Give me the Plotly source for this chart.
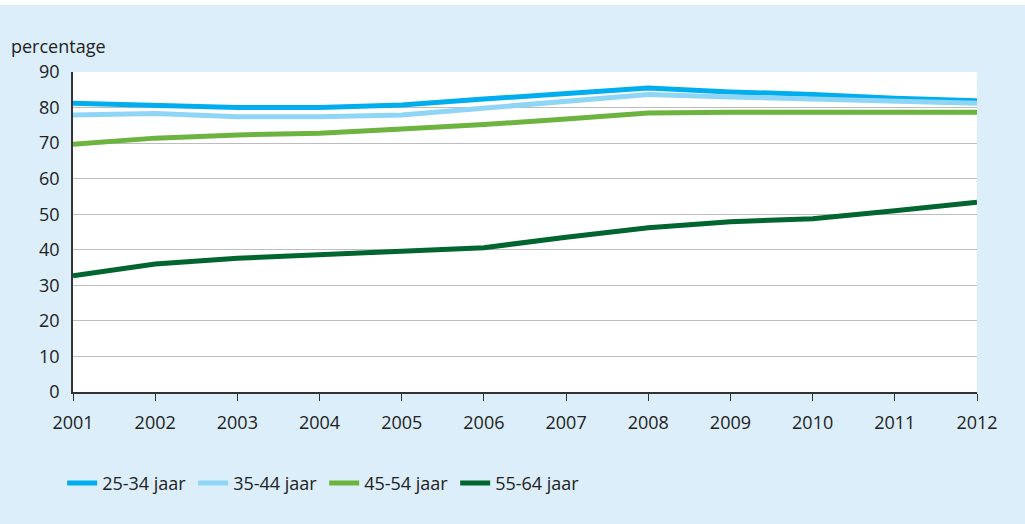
import plotly.graph_objects as go

# Data
years = list(range(2001, 2013))
leeftijd_25_34 = [81.2, 80.5, 80.0, 80.0, 80.7, 82.4, 84.0, 85.5, 84.4, 83.7, 82.6, 81.9]
leeftijd_35_44 = [77.9, 78.3, 77.4, 77.4, 77.9, 79.9, 81.8, 83.7, 83.0, 82.4, 81.8, 81.2]
leeftijd_45_54 = [69.7, 71.4, 72.3, 72.8, 74.0, 75.2, 76.8, 78.5, 78.7, 78.7, 78.8, 78.7]
leeftijd_55_64 = [32.7, 36.0, 37.6, 38.7, 39.6, 40.6, 43.5, 46.2, 47.9, 48.7, 51.0, 53.4]

series = [
    ("25-34 jaar", leeftijd_25_34, "#00aeef"),
    ("35-44 jaar", leeftijd_35_44, "#8fd5f5"),
    ("45-54 jaar", leeftijd_45_54, "#6cb33f"),
    ("55-64 jaar", leeftijd_55_64, "#00652e"),
]

BG = "#dbeef9"
FONT = "Open Sans"
TEXT = "#222222"
FS = 18

fig = go.Figure()

for name, values, color in series:
    fig.add_trace(
        go.Scatter(
            x=years,
            y=values,
            mode="lines",
            name=name,
            line=dict(color=color, width=5),
            cliponaxis=False,
        )
    )

fig.update_layout(
    width=1025,
    height=524,
    margin=dict(l=73, r=48, t=72, b=132),
    paper_bgcolor=BG,
    plot_bgcolor="white",
    font=dict(family=FONT, size=FS, color=TEXT),
    xaxis=dict(
        range=[2001, 2012],
        tickvals=years,
        showgrid=False,
        showline=True,
        linecolor="#333333",
        linewidth=1.5,
        ticks="outside",
        ticklen=7,
        tickcolor="#333333",
        ticklabelstandoff=7,
        tickfont=dict(size=FS, color=TEXT),
        zeroline=False,
    ),
    yaxis=dict(
        range=[0, 90],
        dtick=10,
        showgrid=True,
        gridcolor="#bdbdbd",
        gridwidth=1,
        showline=True,
        linecolor="#333333",
        linewidth=1.5,
        ticks="",
        ticklabelstandoff=8,
        tickfont=dict(size=FS, color=TEXT),
        zeroline=False,
    ),
    legend=dict(
        orientation="h",
        x=-0.012,
        xanchor="left",
        y=-0.285,
        yanchor="middle",
        bgcolor="rgba(0,0,0,0)",
        font=dict(size=FS, color=TEXT),
        entrywidth=86,
        entrywidthmode="pixels",
        itemwidth=30,
    ),
    showlegend=True,
    annotations=[
        dict(
            text="percentage",
            xref="paper",
            yref="paper",
            x=-73 / 904 + 9 / 904,
            y=1 + 26 / 320,
            xanchor="left",
            yanchor="middle",
            showarrow=False,
            font=dict(size=FS, color=TEXT),
        )
    ],
    shapes=[
        # white strip along the top edge of the page
        dict(
            type="rect",
            xref="paper",
            yref="paper",
            x0=-73 / 904,
            x1=1 + 48 / 904,
            y0=1 + 67 / 320,
            y1=1 + 72 / 320,
            fillcolor="white",
            line=dict(width=0),
            layer="below",
        )
    ],
)

fig.write_html(
    "out.html",
    config={"displayModeBar": False},
    post_script="document.body.style.margin='0';",
)
